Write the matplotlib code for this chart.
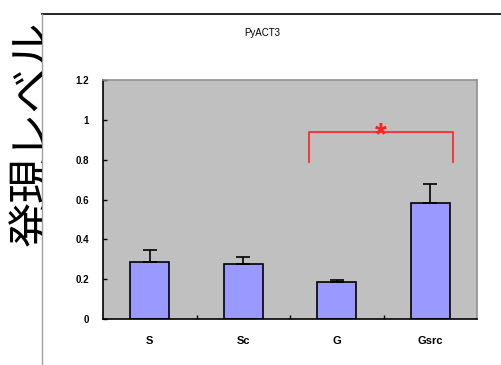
import matplotlib
matplotlib.use('Agg')
import matplotlib.pyplot as plt
from matplotlib.lines import Line2D
from matplotlib.transforms import Bbox

categories = ['S', 'Sc', 'G', 'Gsrc']
values = [0.288, 0.275, 0.184, 0.582]
errors = [0.058, 0.036, 0.010, 0.094]
yticks = [0, 0.2, 0.4, 0.6, 0.8, 1, 1.2]
ytick_labels = ['0', '0.2', '0.4', '0.6', '0.8', '1', '1.2']

plt.rcParams['font.family'] = ['Liberation Sans', 'DejaVu Sans']

fig = plt.figure(figsize=(5.02, 3.65), dpi=100)
ax = fig.add_axes([103 / 502, 46 / 365, 374 / 502, 239 / 365])
ax.set_facecolor('#c0c0c0')

x = range(len(categories))
ax.bar(x, values, width=0.42, color='#9999ff', edgecolor='black', linewidth=1.2,
       yerr=[[0] * len(errors), errors], error_kw=dict(ecolor='black', elinewidth=1.2, capsize=5, capthick=1.2))

ax.set_xlim(-0.5, 3.5)
ax.set_ylim(0, 1.2)
ax.set_yticks(yticks)
ax.set_yticklabels(ytick_labels, fontsize=7, fontweight='bold')
ax.set_xticks([0.5, 1.5, 2.5], minor=False)
ax.set_xticklabels([])
ax.set_xticks(list(x), minor=True)
ax.set_xticklabels(categories, minor=True, fontsize=8, fontweight='bold')
ax.tick_params(axis='x', which='minor', length=0, pad=12)
ax.tick_params(axis='x', which='major', direction='in', length=3, width=1)
ax.tick_params(axis='y', direction='in', length=3, width=1, pad=10)

for side in ['left', 'bottom']:
    ax.spines[side].set_color('black')
    ax.spines[side].set_linewidth(1.2)
for side in ['top', 'right']:
    ax.spines[side].set_color('#909090')
    ax.spines[side].set_linewidth(1.2)

# significance bracket between G and Gsrc
bx0, bx1, btop, bbot = 1.70, 3.24, 0.939, 0.788
ax.plot([bx0, bx0, bx1, bx1], [bbot, btop, btop, bbot], color='#ff2020', lw=1.2)
ax.text((bx0 + bx1) / 2, btop - 0.02, '*', color='#ff2020', fontsize=22,
        ha='center', va='center', fontweight='bold')

fig.text(262 / 502, 1 - 33 / 365, 'PyACT3', fontsize=7, ha='center', va='center')

# big y label, cut off by the frame line like in the original
ylab = fig.text(33 / 502, 1 - 133 / 365, '発現レベル', rotation=90, fontsize=32.5,
                ha='center', va='center', family=['Noto Sans CJK JP', 'DejaVu Sans'])
ylab.set_clip_box(Bbox([[0, 0], [42, 365]]))
ylab.set_clip_on(True)

fig.add_artist(Line2D([42 / 502, 1], [1 - 14 / 365, 1 - 14 / 365], color='black', lw=1.2))
fig.add_artist(Line2D([42 / 502, 42 / 502], [0, 1 - 14 / 365], color='#a0a0a0', lw=1))

fig.savefig('out.png', dpi=100)
